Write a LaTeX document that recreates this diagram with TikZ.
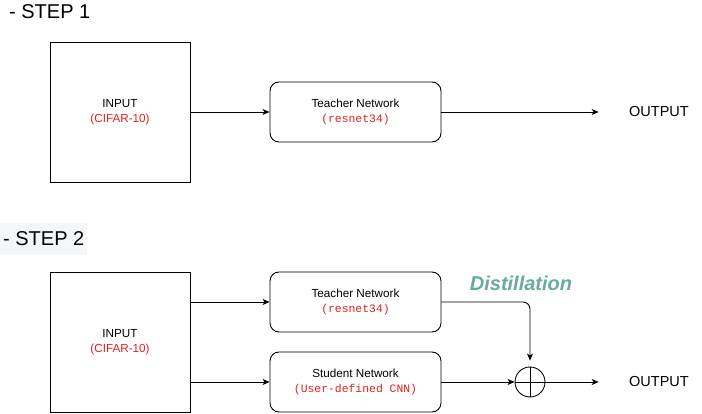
\documentclass[tikz,border=0pt]{standalone}
\usepackage{fontspec}
\setmainfont{Liberation Sans}
\setmonofont{Liberation Mono}
\usepackage{xcolor}
\usetikzlibrary{arrows.meta, positioning, calc}
\definecolor{cifarred}{RGB}{226, 32, 32}
\definecolor{distilgreen}{RGB}{103, 171, 159}
\definecolor{stepgray}{RGB}{244, 246, 247}
\newcommand{\redtxt}[1]{{\color{cifarred}#1}}
\newcommand{\redcode}[1]{{\color{cifarred}\ttfamily\fontsize{11.4}{15}\selectfont #1}}

\begin{document}
\begin{tikzpicture}[
    x=1pt, y=-1pt,
    inbox/.style={rectangle, draw, line width=0.9pt, minimum width=140pt, minimum height=140pt, align=center, font=\fontsize{11.7}{15}\selectfont},
    net/.style={rectangle, draw, rounded corners=9pt, line width=0.9pt, minimum width=171pt, minimum height=60pt, align=center, font=\fontsize{11.7}{15.5}\selectfont},
    steplabel/.style={anchor=west, inner sep=0pt, font=\fontsize{20}{24}\selectfont},
    outlabel/.style={font=\fontsize{14.5}{17}\selectfont},
    sumnode/.style={circle, draw, line width=0.9pt, minimum size=30pt, inner sep=0pt,
        path picture={\draw[line width=0.9pt] (path picture bounding box.north) -- (path picture bounding box.south)
            (path picture bounding box.west) -- (path picture bounding box.east);}},
    arrow/.style={->, line width=0.9pt, >={Stealth[length=7pt, width=6pt, inset=2pt]}}
]
    \useasboundingbox (0,0) rectangle (702,414);

    % Step 1
    \node[steplabel] (step1) at (9,12) {- STEP 1};
    \node[inbox] (input1) at (120,112) {INPUT\\\redtxt{(CIFAR-10)}};
    \node[net] (teacher1) at (355.5,112) {Teacher Network\\\redcode{(resnet34)}};
    \node[outlabel] (output1) at (659,112) {OUTPUT};

    \draw[arrow] (input1) -- (teacher1);
    \draw[arrow, shorten >=27pt] (teacher1) -- (output1);

    % Step 2
    \node[steplabel, fill=stepgray, inner xsep=3pt, minimum height=32pt] (step2) at (0,239) {- STEP 2};
    \node[inbox] (input2) at (120,342) {INPUT\\\redtxt{(CIFAR-10)}};
    \node[net] (teacher2) at (355.5,302) {Teacher Network\\\redcode{(resnet34)}};
    \node[net] (student) at (355.5,382) {Student Network\\\redcode{(User-defined CNN)}};
    \node[sumnode] (sum) at (530,382) {};
    \node[outlabel] (output2) at (659,382) {OUTPUT};
    \node[font=\fontsize{20}{24}\selectfont\bfseries\itshape, text=distilgreen] (distil) at (521,283) {Distillation};

    \draw[arrow] (input2.east |- teacher2) -- (teacher2);
    \draw[arrow] (input2.east |- student) -- (student);
    \draw[arrow, rounded corners=7pt, shorten >=6pt] (teacher2.east) -| (sum.north);
    \draw[arrow] (student) -- (sum);
    \draw[arrow, shorten >=27pt] (sum) -- (output2);
\end{tikzpicture}
\end{document}
